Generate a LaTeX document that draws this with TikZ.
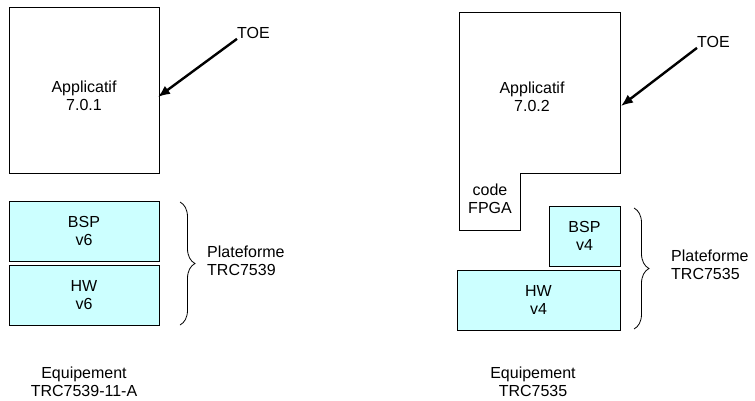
\documentclass[tikz,border=0pt]{standalone}
\usepackage{fontspec}
\setmainfont{Liberation Sans}
\usetikzlibrary{decorations.pathreplacing}
\usetikzlibrary{arrows.meta}
\definecolor{bleuclair}{RGB}{204,255,255}
\tikzset{
  bloc/.style={draw, fill=bleuclair, line width=0.8pt, inner sep=0pt, align=center},
  appli/.style={draw, line width=0.8pt, inner sep=0pt},
  toe/.style={-{Latex[length=12pt,width=10pt]}, line width=2.4pt},
  accolade/.style={decorate, decoration={brace, amplitude=15pt}, line width=0.8pt},
  libre/.style={align=center, inner sep=0pt}
}

\begin{document}
\begin{tikzpicture}[x=1pt,y=-1pt,>=latex,font=\fontsize{16}{18}\selectfont]
\useasboundingbox (0,0) rectangle (755,400);
% equipement TRC7539-11-A
\node[appli, minimum width=150pt, minimum height=166pt] (app1) at (84,90) {};
\node[libre] (txtapp1) at (84,96) {Applicatif\\7.0.1};
\node[bloc, minimum width=150pt, minimum height=60pt] (bsp1) at (84,231) {BSP\\v6};
\node[bloc, minimum width=150pt, minimum height=60pt] (hw1) at (84,295) {HW\\v6};
\node[anchor=west, inner sep=0pt] (toe1) at (237,33) {TOE};
\coordinate (toe1tip) at (158,97);
\draw[toe] (toe1.south west) -- (toe1tip);
\draw[accolade] (180,202) -- (180,325) coordinate[midway] (acc1);
\node[libre, anchor=west, align=left] (plat1) at (207,261) {Plateforme\\TRC7539};
\node[libre] (equ1) at (84,382) {Equipement\\TRC7539-11-A};
% equipement TRC7535
\draw[line width=0.8pt] (459,12) -- (620,12) -- (620,173) -- (520,173) -- (520,230) -- (459,230) -- cycle;
\node[libre] (txtapp2) at (532,97) {Applicatif\\7.0.2};
\node[libre] (fpga) at (490,199) {code\\FPGA};
\node[bloc, minimum width=71pt, minimum height=60pt] (bsp2) at (584.5,236) {BSP\\v4};
\node[bloc, minimum width=163pt, minimum height=60pt] (hw2) at (538.5,300) {HW\\v4};
\node[anchor=west, inner sep=0pt] (toe2) at (697,42) {TOE};
\coordinate (toe2tip) at (621,106);
\draw[toe] (toe2.south west) -- (toe2tip);
\draw[accolade] (634,208) -- (634,329) coordinate[midway] (acc2);
\node[libre, anchor=west, align=left] (plat2) at (671,265) {Plateforme\\TRC7535};
\node[libre] (equ2) at (533,382) {Equipement\\TRC7535};
\end{tikzpicture}
\end{document}
